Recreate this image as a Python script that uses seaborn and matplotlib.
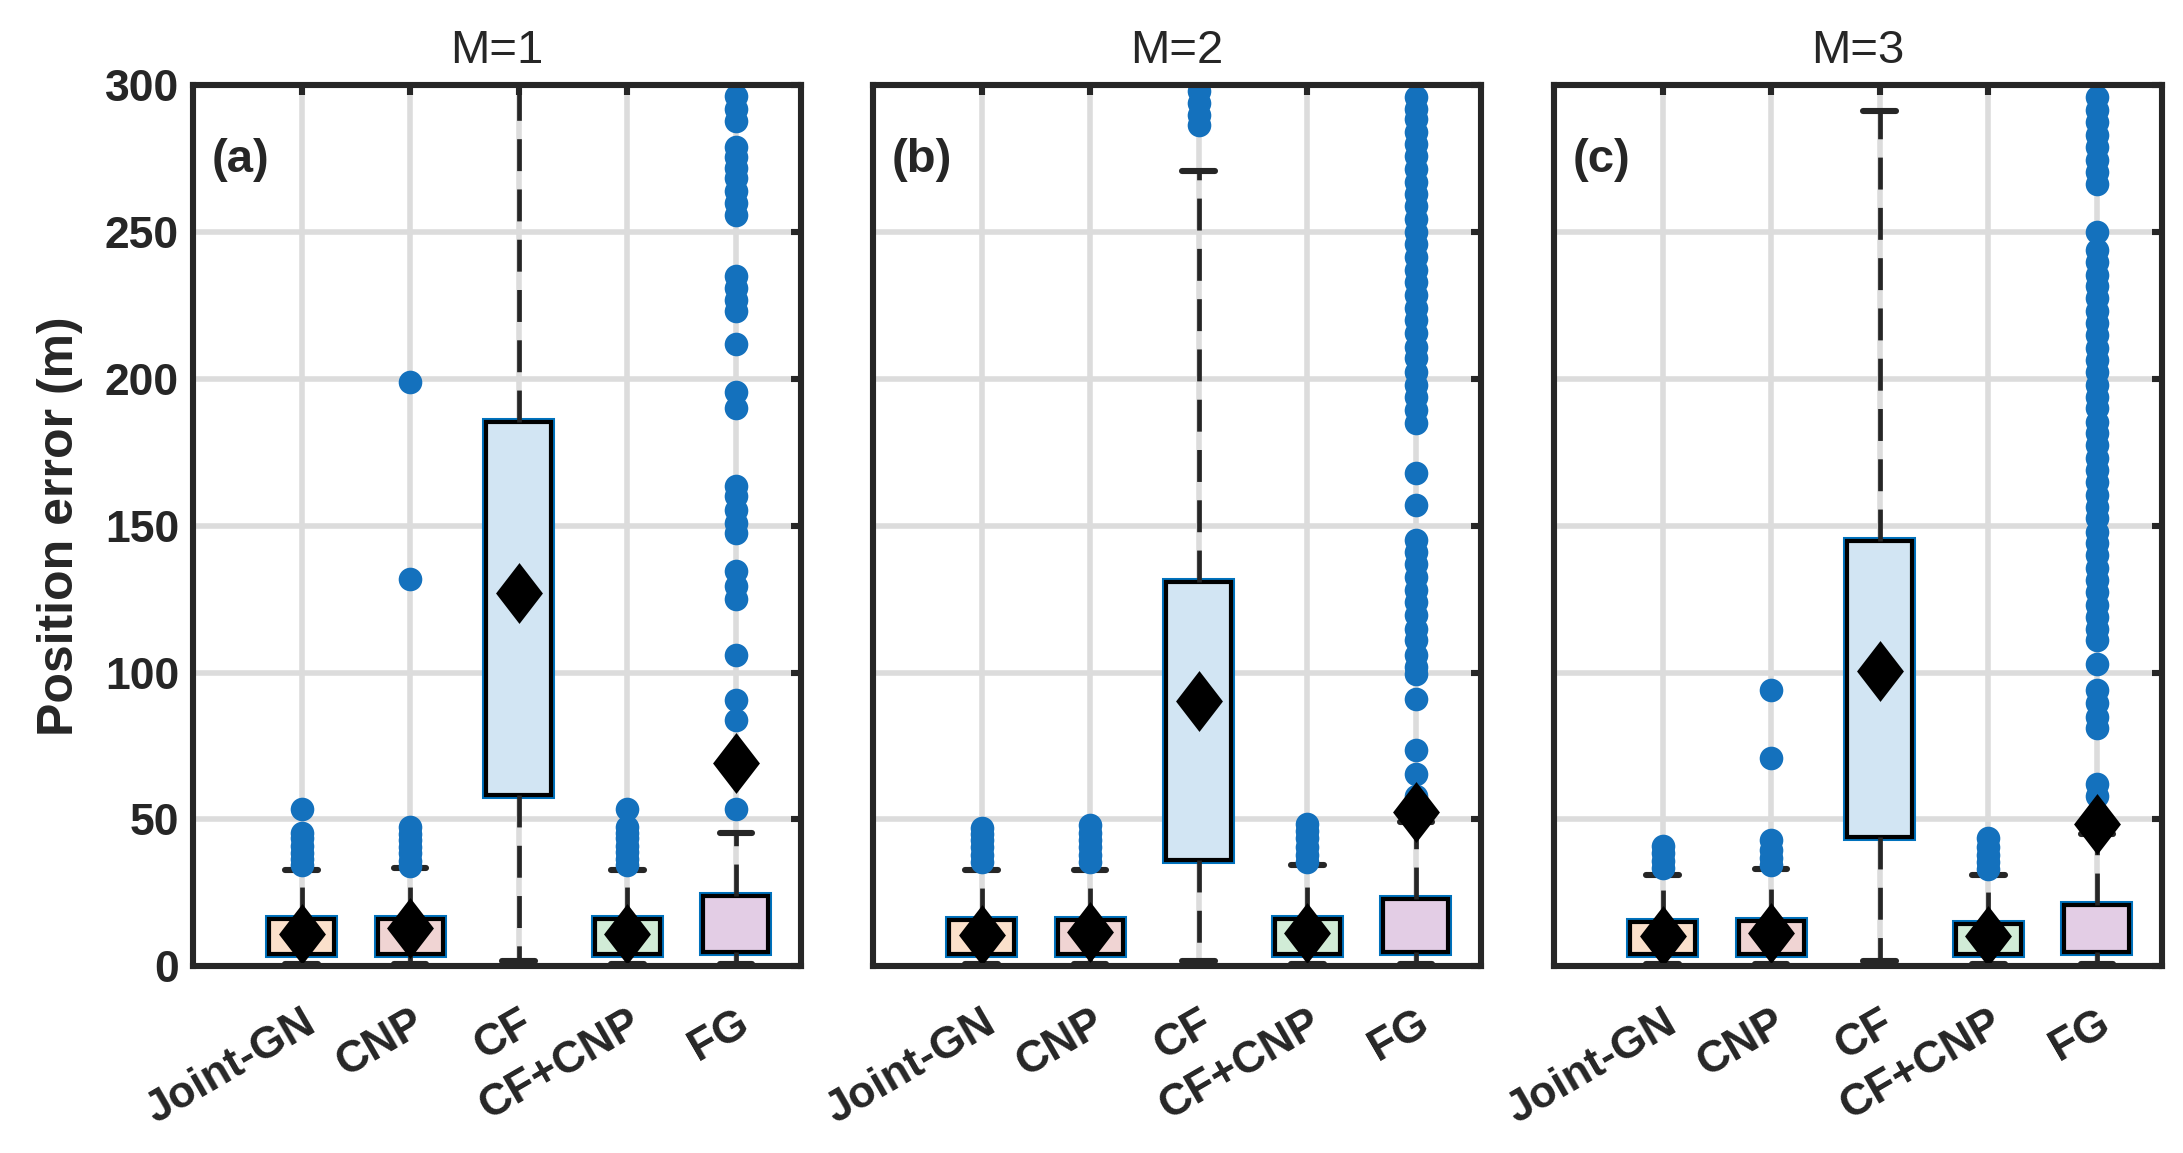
import numpy as np
import pandas as pd
import matplotlib
matplotlib.use("Agg")
import matplotlib.pyplot as plt
import matplotlib.patheffects as pe
from matplotlib.markers import MarkerStyle
from matplotlib.transforms import Affine2D
import seaborn as sns

# ---------------- data ----------------
methods = ["Joint-GN", "CNP", "CF", "CF+CNP", "FG"]
panel_titles = ["M=1", "M=2", "M=3"]
panel_tags = ["(a)", "(b)", "(c)"]
box_colors = ["#FBE0CB", "#F0D4D3", "#D2E5F3", "#D1ECD7", "#E3CDE5"]
y_ticks = [0, 50, 100, 150, 200, 250, 300]

# M = 1
lo_m1 = [0.8, 0.8, 1.8, 0.8, 0.8]
q1_m1 = [4.3, 4.3, 58.3, 4.3, 5.0]
med_m1 = [9.0, 9.5, 110.0, 9.0, 13.0]
q3_m1 = [16.2, 16.2, 185.5, 16.2, 24.0]
hi_m1 = [32.9, 33.3, 320.0, 32.9, 45.5]
mean_m1 = [10.9, 12.9, 127.0, 10.9, 69.2]
out_m1_joint = [34.5, 36.5, 38.5, 41.0, 43.5, 45.5, 53.5]
out_m1_cnp = [34.0, 36.0, 38.5, 40.5, 43.0, 45.0, 47.5, 132.0, 199.0]
out_m1_cf = []
out_m1_cfcnp = [34.5, 36.5, 39.0, 41.0, 43.5, 45.5, 47.5, 53.5]
out_m1_fg = [53.5, 84.0, 90.5, 106.0, 125.0, 129.5, 134.5, 147.5, 151.0, 155.5,
             160.0, 163.5, 190.0, 195.5, 212.0, 223.0, 227.0, 231.0, 235.0,
             256.0, 260.0, 264.0, 268.5, 272.0, 275.5, 279.0, 288.0, 292.0, 296.5]

# M = 2
lo_m2 = [0.8, 0.8, 1.8, 0.8, 0.8]
q1_m2 = [4.1, 4.1, 36.1, 4.1, 4.7]
med_m2 = [9.0, 9.0, 80.0, 9.0, 12.0]
q3_m2 = [15.9, 15.9, 131.0, 16.2, 22.9]
hi_m2 = [32.7, 32.7, 270.8, 34.3, 49.0]
mean_m2 = [10.6, 11.8, 90.2, 11.2, 52.5]
out_m2_joint = [35.5, 38.0, 40.5, 43.0, 45.0, 47.0]
out_m2_cnp = [35.5, 38.0, 40.5, 43.0, 45.5, 48.0]
out_m2_cf = [286.5, 290.0, 294.0, 298.0]
out_m2_cfcnp = [35.5, 38.0, 40.5, 43.5, 46.0, 48.5]
out_m2_fg = [58.0, 65.5, 73.5, 91.0, 99.5, 102.0, 106.0, 111.0, 115.0, 119.5,
             124.0, 128.0, 132.5, 137.0, 141.0, 145.0, 157.0, 168.0, 185.0,
             189.5, 194.0, 198.0, 202.5, 207.0, 211.0, 215.5, 220.0, 224.0,
             228.5, 233.0, 237.0, 241.5, 246.0, 250.0, 254.5, 259.0, 263.0,
             267.0, 271.5, 276.0, 280.0, 284.0, 288.5, 292.0, 296.0]

# M = 3
lo_m3 = [0.8, 0.8, 1.8, 0.8, 0.8]
q1_m3 = [4.0, 4.0, 43.9, 4.0, 4.7]
med_m3 = [8.5, 9.0, 90.0, 8.5, 11.0]
q3_m3 = [14.9, 15.5, 144.9, 14.3, 21.0]
hi_m3 = [31.2, 33.0, 291.4, 31.0, 45.0]
mean_m3 = [10.4, 11.4, 100.5, 10.4, 48.5]
out_m3_joint = [33.5, 36.0, 38.5, 41.0]
out_m3_cnp = [34.5, 37.0, 39.5, 43.0, 70.8, 93.9]
out_m3_cf = []
out_m3_cfcnp = [33.0, 35.5, 38.0, 40.5, 43.5]
out_m3_fg = [58.0, 62.0, 81.0, 85.0, 89.5, 94.0, 103.0, 111.0, 115.0, 119.0,
             123.0, 127.5, 131.5, 135.5, 140.0, 144.0, 148.0, 152.5, 156.5,
             160.5, 165.0, 169.0, 173.0, 177.5, 181.5, 185.5, 190.0, 194.0,
             198.0, 202.5, 206.5, 210.5, 215.0, 219.0, 223.0, 227.5, 231.5,
             235.5, 240.0, 244.0, 250.0, 266.5, 270.5, 274.5, 279.0, 283.0,
             287.5, 291.5, 296.0]

panels = [
    (lo_m1, q1_m1, med_m1, q3_m1, hi_m1, mean_m1,
     [out_m1_joint, out_m1_cnp, out_m1_cf, out_m1_cfcnp, out_m1_fg]),
    (lo_m2, q1_m2, med_m2, q3_m2, hi_m2, mean_m2,
     [out_m2_joint, out_m2_cnp, out_m2_cf, out_m2_cfcnp, out_m2_fg]),
    (lo_m3, q1_m3, med_m3, q3_m3, hi_m3, mean_m3,
     [out_m3_joint, out_m3_cnp, out_m3_cf, out_m3_cfcnp, out_m3_fg]),
]

# ---------------- style ----------------
sns.set_style("white")
plt.rcParams["font.family"] = ["Liberation Sans", "DejaVu Sans"]
ink = "#262626"
plt.rcParams["text.color"] = ink
plt.rcParams["axes.labelcolor"] = ink
plt.rcParams["xtick.color"] = ink
plt.rcParams["ytick.color"] = ink

fig = plt.figure(figsize=(10.915, 5.765), dpi=200)
lefts = [0.0884, 0.3999, 0.7119]
width = 0.2785
bottom, height = 0.162, 0.764

lw_whisk = 1.7
diamond = MarkerStyle("D", transform=Affine2D().scale(0.77, 1.0))

for i, (lo, q1, med, q3, hi, mean, outs) in enumerate(panels):
    ax = fig.add_axes([lefts[i], bottom, width, height])

    box_rows = []
    for m, a, b, c, d, e in zip(methods, lo, q1, med, q3, hi):
        for v in (a, b, c, d, e):
            box_rows.append((m, v))
    df_box = pd.DataFrame(box_rows, columns=["method", "value"])

    out_rows = [(m, v) for m, vals in zip(methods, outs) for v in vals]
    df_out = pd.DataFrame(out_rows, columns=["method", "value"])
    df_mean = pd.DataFrame({"method": methods, "value": mean})

    sns.boxplot(
        data=df_box, x="method", y="value", order=methods,
        hue="method", hue_order=methods, palette=box_colors, saturation=1,
        legend=False, whis=(0, 100), showfliers=False, width=0.6,
        linecolor="black", linewidth=1.5, ax=ax,
        boxprops=dict(linewidth=1.5, zorder=2,
                      path_effects=[pe.Stroke(linewidth=2.9, foreground="#0072BD"),
                                    pe.Normal()]),
        whiskerprops=dict(linewidth=lw_whisk, color=ink,
                          linestyle=(0, (11.5 / lw_whisk, 6.6 / lw_whisk)), zorder=2),
        capprops=dict(linewidth=2.2, color=ink, zorder=2),
        medianprops=dict(visible=False),
        capwidths=0.3,
    )
    sns.stripplot(
        data=df_out, x="method", y="value", order=methods, jitter=False,
        color="#1471BD", size=8.5, linewidth=0, zorder=4, ax=ax,
    )
    sns.stripplot(
        data=df_mean, x="method", y="value", order=methods, jitter=False,
        color="black", marker=diamond, size=15.5, linewidth=0, zorder=5, ax=ax,
    )

    ax.set_xlim(-1, 4.6)
    ax.set_ylim(0, 300)
    ax.grid(True, color="#DCDCDC", linewidth=2.0)
    ax.set_axisbelow(True)

    ax.set_xticks(range(len(methods)))
    ax.set_xticklabels(methods, rotation=30, ha="right", rotation_mode="anchor",
                       fontweight="bold", fontsize=16)
    ax.set_yticks(y_ticks)
    if i == 0:
        ax.set_yticklabels([str(v) for v in y_ticks], fontweight="bold", fontsize=16)
        ax.set_ylabel("Position error (m)", fontsize=18, fontweight="bold", labelpad=8)
    else:
        ax.set_yticklabels([])
        ax.set_ylabel("")
    ax.set_xlabel("")
    ax.tick_params(axis="both", direction="in", length=3.5, width=2.2,
                   top=True, right=True, color=ink)
    ax.tick_params(axis="x", pad=13)
    ax.tick_params(axis="y", pad=5)
    for s in ax.spines.values():
        s.set_visible(True)
        s.set_color(ink)
        s.set_linewidth(2.2)
        s.set_zorder(6)

    ax.set_title(panel_titles[i], fontsize=17, fontweight="normal", pad=8)
    ax.text(0.03, 0.915, panel_tags[i], transform=ax.transAxes, fontsize=17,
            fontweight="bold", ha="left", va="center", zorder=7)

fig.savefig("out.png", dpi=200)
